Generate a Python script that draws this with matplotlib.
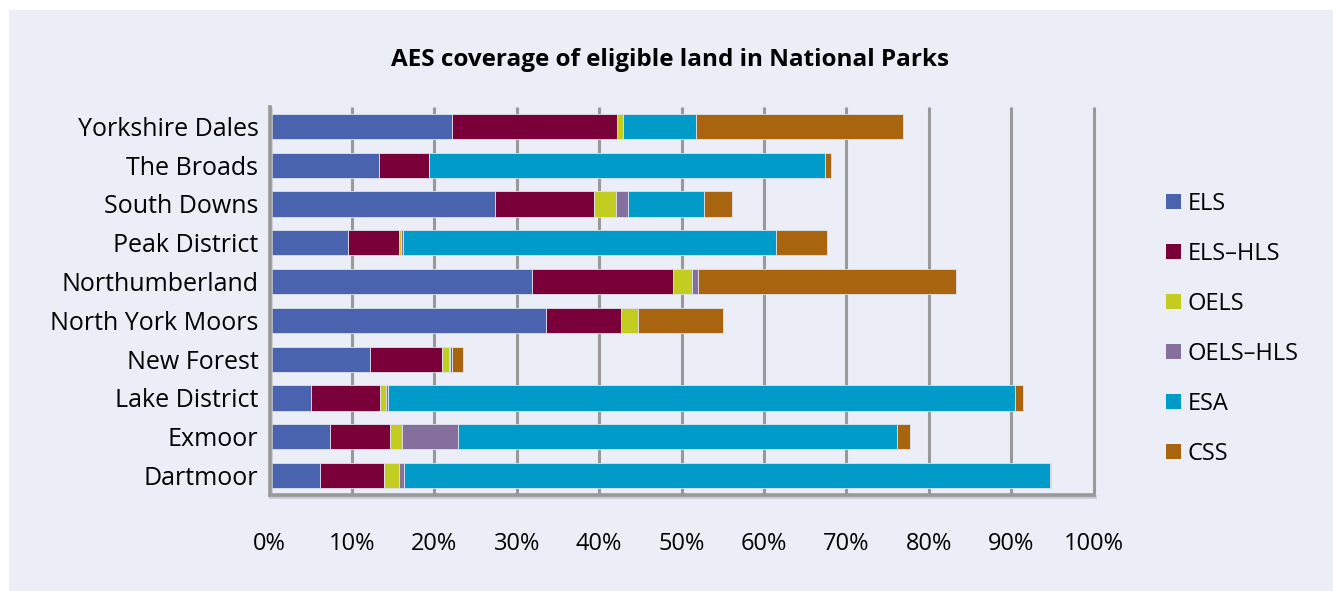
import matplotlib.pyplot as plt
import matplotlib.patheffects as pe
from matplotlib.patches import Rectangle
import numpy as np

plt.rcParams['font.family'] = ['Open Sans', 'DejaVu Sans']

parks = ["Dartmoor", "Exmoor", "Lake District", "New Forest", "North York Moors",
         "Northumberland", "Peak District", "South Downs", "The Broads", "Yorkshire Dales"]

schemes = ["ELS", "ELS\u2013HLS", "OELS", "OELS\u2013HLS", "ESA", "CSS"]

# percentages, same order as parks
els      = [6.1, 7.3, 5.0, 12.2, 33.6, 31.8, 9.5, 27.4, 13.3, 22.1]
els_hls  = [7.8, 7.3, 8.4, 8.7, 9.1, 17.2, 6.2, 12.0, 6.0, 20.1]
oels     = [1.8, 1.5, 0.7, 0.9, 2.0, 2.3, 0.3, 2.7, 0.0, 0.7]
oels_hls = [0.6, 6.8, 0.3, 0.1, 0.0, 0.7, 0.2, 1.4, 0.1, 0.0]
esa      = [78.4, 53.2, 76.1, 0.3, 0.0, 0.0, 45.3, 9.2, 48.0, 8.9]
css      = [0.1, 1.6, 0.9, 1.3, 10.3, 31.3, 6.2, 3.4, 0.8, 25.1]

colors = ["#4a63ae", "#7a0039", "#c3cc20", "#85709d", "#009bc9", "#a8640f"]
bg = "#ebeef6"

fig = plt.figure(figsize=(13.33, 5.91), dpi=100, facecolor="white")
fig.patches.append(Rectangle((9 / 1333, 0), 1, 1 - 10 / 591, transform=fig.transFigure,
                             facecolor=bg, edgecolor="none", zorder=-10))

ax = fig.add_axes([269.5 / 1333, 1 - 495 / 591, (1093.5 - 269.5) / 1333, (495 - 107) / 591])
ax.set_facecolor(bg)

y = np.arange(len(parks))
left = np.zeros(len(parks))
for vals, name, col in zip([els, els_hls, oels, oels_hls, esa, css], schemes, colors):
    vals = np.array(vals)
    ax.barh(y, vals, left=left, height=0.65, color=col, edgecolor="#dfe3ee",
            linewidth=0.6, label=name, zorder=3)
    left += vals

ax.set_xlim(0, 100)
ax.set_ylim(-0.5, 9.5)
ax.set_xticks(np.arange(0, 101, 10))
ax.set_xticklabels([f"{v}%" for v in range(0, 101, 10)], fontsize=17)
ax.set_yticks(y)
ax.set_yticklabels(parks, fontsize=18)
ax.tick_params(axis="both", length=0)
ax.tick_params(axis="x", pad=27)
ax.tick_params(axis="y", pad=8)
ax.grid(axis="x", color="#999999", linewidth=2.2, zorder=1)
for gl in ax.get_xgridlines():
    gl.set_clip_on(False)
    gl.set_solid_capstyle("butt")

for s in ["top", "right"]:
    ax.spines[s].set_visible(False)
for s in ["left", "bottom"]:
    ax.spines[s].set_color("#999999")
    ax.spines[s].set_linewidth(2.6)
    ax.spines[s].set_zorder(4)
    ax.spines[s].set_path_effects([pe.SimpleLineShadow(offset=(1.2, -1.2), shadow_color="#c8cad0", alpha=1),
                                   pe.Normal()])

fig.text(670 / 1333, 1 - 60 / 591, "AES coverage of eligible land in National Parks",
         ha="center", va="center", fontsize=17.5, fontweight="bold")

handles, labels = ax.get_legend_handles_labels()
leg = fig.legend(handles, labels, loc="center left", bbox_to_anchor=(1145 / 1333, 1 - 329 / 591),
                 frameon=False, fontsize=17, handlelength=0.62, handleheight=0.62,
                 handletextpad=0.3, labelspacing=1.1)
for h in leg.legend_handles:
    h.set_edgecolor("none")

fig.savefig("out.png", dpi=100)
